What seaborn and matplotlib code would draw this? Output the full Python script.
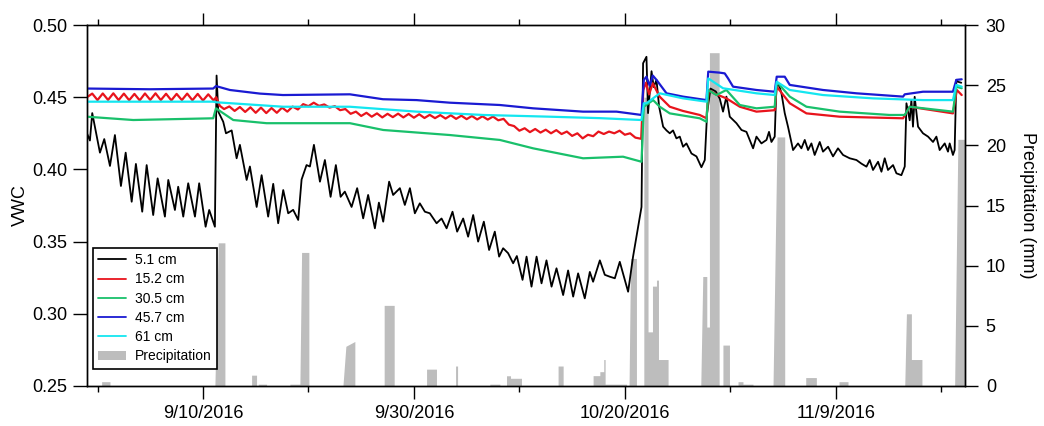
import numpy as np
import pandas as pd
import matplotlib
matplotlib.use("Agg")
import matplotlib.pyplot as plt
from matplotlib.patches import Patch
from matplotlib.lines import Line2D
import seaborn as sns

sns.set_theme(style="ticks")
plt.rcParams["font.family"] = ["Liberation Sans", "DejaVu Sans"]
plt.rcParams["text.color"] = "black"
plt.rcParams["axes.labelcolor"] = "black"
plt.rcParams["xtick.color"] = "black"
plt.rcParams["ytick.color"] = "black"
plt.rcParams["xtick.labelcolor"] = "black"
plt.rcParams["ytick.labelcolor"] = "black"

START = pd.Timestamp("2016-08-30")

# ---------------- data (days since 2016-08-30, VWC) ----------------
d51_day = [0.00, 0.28, 0.50, 1.23, 1.64, 2.18, 2.65, 3.22, 3.67, 4.24, 4.64, 5.24, 5.66, 6.28, 6.70,
           7.39, 7.71, 8.34, 8.65, 9.13, 9.60, 10.24, 10.64, 11.25, 11.59, 12.13, 12.29, 12.45, 12.92,
           13.18, 13.72, 14.19, 14.50, 15.14, 15.45, 16.09, 16.56, 17.18, 17.66, 18.13, 18.61, 19.08,
           19.55, 20.03, 20.35, 20.82, 21.14, 21.52, 22.09, 22.56, 23.10, 23.60, 24.05, 24.45, 25.09,
           25.62, 26.19, 26.66, 27.30, 27.68, 28.09, 28.65, 29.03, 29.67, 30.14, 30.62, 31.09, 31.56,
           32.04, 32.51, 33.15, 33.62, 34.10, 34.66, 35.10, 35.67, 36.14, 36.62, 37.09, 37.63, 38.13,
           38.67, 39.08, 39.46, 39.93, 40.41, 40.76, 41.30, 41.68, 42.15, 42.63, 43.10, 43.57, 44.05,
           44.52, 45.15, 45.62, 46.10, 46.57, 47.20, 47.68, 47.99, 48.63, 49.10, 49.57, 50.05, 50.52,
           51.31, 51.78, 52.26, 52.58, 52.73, 53.05, 53.20, 53.53, 53.74, 54.00, 54.25, 54.63, 54.95,
           55.26, 55.57, 55.89, 56.21, 56.52, 56.84, 57.32, 57.79, 58.26, 58.58, 58.80, 59.12, 59.62,
           60.00, 60.31, 60.63, 60.95, 61.58, 62.06, 62.53, 63.16, 63.48, 63.95, 64.43, 64.67, 64.90,
           65.21, 65.37, 65.62, 65.85, 66.16, 66.47, 66.95, 67.42, 67.74, 68.06, 68.37, 68.69, 69.00,
           69.48, 69.79, 70.27, 70.74, 71.21, 71.69, 72.32, 72.96, 73.43, 73.91, 74.22, 74.53, 75.01,
           75.33, 75.64, 75.95, 76.43, 76.75, 77.22, 77.54, 77.70, 78.01, 78.17, 78.32, 78.48, 78.80,
           79.27, 79.75, 80.22, 80.54, 80.85, 81.33, 81.64, 81.80, 82.11, 82.27, 82.43, 82.58, 82.90]
d51_vwc = [0.425, 0.420, 0.439, 0.4116, 0.421, 0.4024, 0.4238, 0.3885, 0.4116, 0.3776, 0.4038, 0.3707,
           0.403, 0.3684, 0.3938, 0.3673, 0.3927, 0.3719, 0.388, 0.3673, 0.3904, 0.3673, 0.3904, 0.3603,
           0.3719, 0.3603, 0.465, 0.440, 0.433, 0.425, 0.427, 0.4077, 0.417, 0.3927, 0.402, 0.374, 0.396,
           0.3673, 0.390, 0.3627, 0.3857, 0.3696, 0.372, 0.365, 0.393, 0.403, 0.402, 0.417, 0.3915,
           0.4065, 0.381, 0.403, 0.381, 0.3846, 0.374, 0.387, 0.3661, 0.3823, 0.3592, 0.377, 0.3638,
           0.3915, 0.3823, 0.387, 0.3754, 0.387, 0.3696, 0.3765, 0.3707, 0.3696, 0.3627, 0.366, 0.3592,
           0.3707, 0.3569, 0.366, 0.3534, 0.3684, 0.350, 0.3638, 0.3442, 0.3569, 0.3396, 0.3454, 0.342,
           0.335, 0.340, 0.3235, 0.3396, 0.3188, 0.3396, 0.3211, 0.337, 0.3188, 0.3315, 0.313, 0.330,
           0.3119, 0.328, 0.3107, 0.329, 0.3222, 0.337, 0.327, 0.3257, 0.3246, 0.336, 0.3153, 0.3396,
           0.3603, 0.374, 0.4735, 0.478, 0.439, 0.468, 0.457, 0.462, 0.4434, 0.4296, 0.427, 0.425, 0.427,
           0.4215, 0.4227, 0.4157, 0.418, 0.411, 0.409, 0.4015, 0.4065, 0.439, 0.456, 0.454, 0.449, 0.440,
           0.4504, 0.4365, 0.432, 0.4273, 0.426, 0.4146, 0.4227, 0.418, 0.4204, 0.426, 0.419, 0.4227,
           0.4573, 0.4585, 0.4527, 0.439, 0.4296, 0.4134, 0.418, 0.4146, 0.4204, 0.4134, 0.418, 0.410,
           0.419, 0.4123, 0.4157, 0.409, 0.4146, 0.410, 0.4077, 0.4065, 0.404, 0.4019, 0.4065, 0.3996,
           0.4053, 0.3984, 0.4077, 0.3996, 0.403, 0.3973, 0.396, 0.402, 0.4458, 0.434, 0.448, 0.4296,
           0.4503, 0.4296, 0.425, 0.4227, 0.419, 0.4227, 0.4134, 0.418, 0.4123, 0.418, 0.410, 0.4134,
           0.462, 0.4607, 0.460]

d152_day = [0.0, 0.5, 1.0, 1.5, 2.0, 2.5, 3.0, 3.5, 4.0, 4.5, 5.0, 5.5, 6.0, 6.5, 7.0, 7.5, 8.0, 8.5,
            9.0, 9.5, 10.0, 10.5, 11.0, 11.5, 12.0, 12.25, 12.6, 13.0, 13.5, 14.0, 14.5, 15.0, 15.5,
            16.0, 16.5, 17.0, 17.5, 18.0, 18.5, 19.0, 19.5, 20.0, 20.5, 21.0, 21.5, 22.0, 22.5, 23.0,
            23.5, 24.0, 24.5, 25.0, 25.5, 26.0, 26.5, 27.0, 27.5, 28.0, 28.5, 29.0, 29.5, 30.0, 30.5,
            31.0, 31.5, 32.0, 32.5, 33.0, 33.5, 34.0, 34.5, 35.0, 35.5, 36.0, 36.5, 37.0, 37.5, 38.0,
            38.5, 39.0, 39.5, 40.0, 40.5, 41.0, 41.5, 42.0, 42.5, 43.0, 43.5, 44.0, 44.5, 45.0, 45.5,
            46.0, 46.5, 47.0, 47.5, 48.0, 48.5, 49.0, 49.5, 50.0, 50.5, 51.0, 51.5, 52.0, 52.55, 52.75,
            53.0, 53.3, 53.65, 54.3, 55.26, 56.5, 58.1, 58.74, 58.95, 59.5, 60.63, 61.9, 63.48, 65.21,
            65.40, 66.64, 68.22, 71.37, 77.38, 78.01, 82.11, 82.48, 82.94]
d152_vwc = [0.4500, 0.4525, 0.4480, 0.4526, 0.4481, 0.4527, 0.4480, 0.4525, 0.4479, 0.4523, 0.4478,
            0.4526, 0.4481, 0.4527, 0.4480, 0.4524, 0.4478, 0.4523, 0.4480, 0.4525, 0.4479, 0.4523,
            0.4477, 0.4520, 0.4478, 0.4500, 0.4440, 0.4418, 0.4436, 0.4405, 0.4432, 0.4398, 0.4430,
            0.4392, 0.4428, 0.4390, 0.4425, 0.4392, 0.4428, 0.4400, 0.4435, 0.4415, 0.4452, 0.4438,
            0.4462, 0.4440, 0.4450, 0.4428, 0.4438, 0.4410, 0.4418, 0.4385, 0.4400, 0.4370, 0.4392,
            0.4365, 0.4388, 0.4360, 0.4385, 0.4362, 0.4386, 0.4360, 0.4384, 0.4358, 0.4382, 0.4356,
            0.4378, 0.4355, 0.4376, 0.4352, 0.4375, 0.4350, 0.4372, 0.4348, 0.4370, 0.4346, 0.4368,
            0.4345, 0.4366, 0.4340, 0.4350, 0.4310, 0.4300, 0.4268, 0.4285, 0.4258, 0.4280, 0.4255,
            0.4275, 0.4250, 0.4272, 0.4245, 0.4262, 0.4232, 0.4250, 0.4215, 0.4240, 0.4230, 0.4262,
            0.4245, 0.4262, 0.4250, 0.4268, 0.4240, 0.4250, 0.4220, 0.4212, 0.4550, 0.4600, 0.4520,
            0.4596, 0.4504, 0.4434, 0.4405, 0.4377, 0.4354, 0.4550, 0.4525, 0.4492, 0.4434, 0.4400,
            0.4410, 0.4573, 0.4458, 0.4388, 0.4365, 0.4354, 0.4434, 0.4388, 0.4550, 0.4515]

d305_day = [0.0, 4.39, 11.97, 12.23, 13.87, 17.03, 24.93, 28.09, 34.41, 39.15, 42.30, 47.04, 50.83,
            52.58, 52.80, 53.68, 54.31, 55.26, 58.10, 58.74, 58.91, 59.68, 60.63, 61.90, 63.48, 65.21,
            65.40, 66.64, 68.22, 71.37, 76.11, 77.54, 78.01, 82.11, 82.43, 82.94]
d305_vwc = [0.4365, 0.4342, 0.4354, 0.4423, 0.4342, 0.4320, 0.4320, 0.4273, 0.4238, 0.4204, 0.4146,
            0.4077, 0.4088, 0.4053, 0.4434, 0.4480, 0.4434, 0.4388, 0.4354, 0.4330, 0.4550, 0.4515,
            0.4550, 0.4446, 0.4423, 0.4434, 0.4607, 0.4504, 0.4434, 0.4400, 0.4377, 0.4377, 0.4434,
            0.4400, 0.4573, 0.4562]

d457_day = [0.0, 5.97, 11.97, 12.23, 13.55, 16.4, 18.58, 24.93, 28.06, 31.25, 34.41, 39.15, 42.30,
            47.04, 50.21, 52.58, 52.80, 53.05, 53.36, 53.65, 54.00, 54.95, 56.52, 58.74, 58.91, 60.00,
            60.47, 60.79, 61.26, 63.48, 65.21, 65.40, 66.16, 66.64, 69.79, 72.96, 77.38, 77.54, 79.27,
            82.11, 82.43, 82.94]
d457_vwc = [0.4560, 0.4555, 0.4560, 0.4577, 0.4550, 0.4525, 0.4515, 0.4520, 0.4486, 0.4480, 0.4462,
            0.4446, 0.4423, 0.4400, 0.4400, 0.4377, 0.4620, 0.4642, 0.4580, 0.4650, 0.4620, 0.4527,
            0.4504, 0.4480, 0.4677, 0.4670, 0.4665, 0.4630, 0.4573, 0.4550, 0.4538, 0.4642, 0.4642,
            0.4585, 0.4550, 0.4527, 0.4504, 0.4520, 0.4538, 0.4538, 0.4620, 0.4624]

d61_day = [0.0, 11.97, 12.23, 18.61, 24.93, 31.25, 37.56, 43.89, 48.63, 52.58, 52.80, 53.05, 54.31,
           56.52, 58.74, 58.91, 59.53, 60.31, 63.48, 65.21, 65.40, 66.64, 69.79, 74.53, 79.27, 82.11,
           82.43, 82.94]
d61_vwc = [0.4469, 0.4469, 0.4465, 0.4434, 0.4434, 0.4400, 0.4377, 0.4365, 0.4355, 0.4342, 0.4458,
           0.4458, 0.4527, 0.4492, 0.4469, 0.4630, 0.4600, 0.4562, 0.4527, 0.4515, 0.4607, 0.4550,
           0.4515, 0.4492, 0.4480, 0.4480, 0.4585, 0.4573]

precip_day = [1.39, 1.39, 2.18, 2.18, 12.13, 12.45, 13.08, 13.08, 15.61, 15.61, 16.08, 16.08, 16.24,
              16.24, 17.03, 17.03, 19.24, 19.24, 20.19, 20.35, 21.04, 21.04, 24.27, 24.55, 25.40, 25.40,
              28.18, 28.18, 29.13, 29.13, 32.20, 32.20, 33.14, 33.14, 34.95, 34.95, 35.14, 35.14, 38.20,
              38.20, 39.15, 39.15, 39.78, 39.78, 40.16, 40.16, 41.20, 41.20, 44.67, 44.67, 45.15, 45.15,
              47.99, 47.99, 48.63, 48.63, 49.00, 49.00, 49.13, 49.13, 51.16, 51.16, 51.40, 51.54, 52.10,
              52.10, 52.80, 52.80, 53.20, 53.20, 53.62, 53.62, 54.00, 54.00, 54.19, 54.19, 55.10, 55.10,
              58.20, 58.39, 58.77, 58.77, 59.02, 59.02, 59.94, 59.94, 60.30, 60.30, 60.92, 60.92, 61.73,
              61.73, 62.20, 62.20, 63.15, 63.15, 65.05, 65.43, 66.16, 66.16, 68.15, 68.15, 69.16, 69.16,
              71.31, 71.31, 72.16, 72.16, 77.54, 77.70, 78.17, 78.17, 78.48, 78.48, 79.17, 79.17, 82.27,
              82.58, 83.21]
precip_mm = [0.0, 0.36, 0.36, 0.0, 0.0, 11.9, 11.9, 0.0, 0.0, 0.9, 0.9, 0.0, 0.0,
             0.15, 0.15, 0.0, 0.0, 0.15, 0.15, 11.1, 11.1, 0.0, 0.0, 3.3, 3.7, 0.0,
             0.0, 6.7, 6.7, 0.0, 0.0, 1.4, 1.4, 0.0, 0.0, 1.66, 1.66, 0.0, 0.0,
             0.15, 0.15, 0.0, 0.0, 0.85, 0.85, 0.64, 0.64, 0.0, 0.0, 1.66, 1.66, 0.0,
             0.0, 0.86, 0.86, 1.19, 1.19, 2.2, 2.2, 0.15, 0.15, 0.0, 0.0, 10.6, 10.6,
             0.0, 0.0, 24.0, 24.0, 4.5, 4.5, 8.3, 8.3, 8.8, 8.8, 2.2, 2.2, 0.0,
             0.0, 9.1, 9.1, 4.9, 4.9, 27.7, 27.7, 0.0, 0.0, 3.4, 3.4, 0.0, 0.0,
             0.36, 0.36, 0.15, 0.15, 0.0, 0.0, 20.7, 20.7, 0.0, 0.0, 0.7, 0.7, 0.0,
             0.0, 0.36, 0.36, 0.0, 0.0, 6.0, 6.0, 2.2, 2.2, 2.2, 2.2, 0.0, 0.0,
             20.5, 20.5]

series_labels = ["5.1 cm", "15.2 cm", "30.5 cm", "45.7 cm", "61 cm"]
series_colors = ["#000000", "#e8141c", "#19c06b", "#1a1ad2", "#14e6f0"]
major_ticks = ["2016-09-10", "2016-09-30", "2016-10-20", "2016-11-09"]
minor_ticks = ["2016-08-31", "2016-09-20", "2016-10-10", "2016-10-30", "2016-11-19"]


def to_time(days):
    return START + pd.to_timedelta(np.asarray(days, dtype=float), unit="D")


series = [(d51_day, d51_vwc), (d152_day, d152_vwc), (d305_day, d305_vwc),
          (d457_day, d457_vwc), (d61_day, d61_vwc)]

fig = plt.figure(figsize=(10.44, 4.26), dpi=100)
ax = fig.add_axes([0.0833, 0.0939, 0.841, 0.8474])
ax2 = ax.twinx()
ax.set_zorder(ax2.get_zorder() + 1)
ax.patch.set_visible(False)

# precipitation
ptime = to_time(precip_day)
ax2.fill_between(ptime, 0, precip_mm, color="#bdbdbd", lw=0, zorder=1)

# soil moisture lines
for (days, vals), lab, col in zip(series, series_labels, series_colors):
    df = pd.DataFrame({"time": to_time(days), "vwc": vals})
    sns.lineplot(data=df, x="time", y="vwc", ax=ax, color=col,
                 lw=1.3 if col == "#000000" else 1.6, estimator=None, sort=False, legend=False)

ax.set_xlim(START, START + pd.Timedelta(days=83.25))
ax.set_ylim(0.25, 0.50)
ax2.set_ylim(0, 30)

ax.set_yticks(np.arange(0.25, 0.501, 0.05))
ax.set_yticklabels([f"{v:.2f}" for v in np.arange(0.25, 0.501, 0.05)])
ax2.set_yticks(np.arange(0, 31, 5))

mt = pd.to_datetime(major_ticks)
ax.set_xticks(mt)
ax.set_xticklabels([f"{t.month}/{t.day}/{t.year}" for t in mt])
ax.set_xticks(pd.to_datetime(minor_ticks), minor=True)

ax.set_xlabel("")
ax.set_ylabel("VWC", fontsize=13, labelpad=2.5, color="black")
ax2.set_ylabel("Precipitation (mm)", fontsize=13, rotation=270, labelpad=22, color="black")

for sp in ax.spines.values():
    sp.set_visible(True)
    sp.set_linewidth(1.0)
    sp.set_color("black")
for sp in ax2.spines.values():
    sp.set_linewidth(1.0)
    sp.set_color("black")

ax.tick_params(axis="x", which="major", direction="out", length=9, width=1.0,
               top=True, bottom=True, labelsize=13, pad=5, color="black", labelcolor="black")
ax.tick_params(axis="x", which="minor", direction="out", length=4.5, width=1.0,
               top=True, bottom=True, color="black")
ax.tick_params(axis="y", which="major", direction="out", length=10, width=1.0,
               left=True, right=False, labelsize=13, pad=4, color="black", labelcolor="black")
ax2.tick_params(axis="y", which="major", direction="out", length=9, width=1.0,
                right=True, labelsize=13, pad=6, color="black", labelcolor="black")

handles = [Line2D([0], [0], color=c, lw=1.3) for c in series_colors]
handles.append(Patch(facecolor="#bdbdbd", edgecolor="none"))
leg = ax.legend(handles, series_labels + ["Precipitation"], loc="lower left",
                bbox_to_anchor=(0.0068, 0.047), borderaxespad=0, fontsize=10,
                frameon=True, fancybox=False, edgecolor="black", framealpha=1,
                handlelength=2.0, handletextpad=0.6, labelspacing=0.38, borderpad=0.4)
leg.get_frame().set_linewidth(1.2)
for txt in leg.get_texts():
    txt.set_color("black")

fig.savefig("out.png", dpi=100)
